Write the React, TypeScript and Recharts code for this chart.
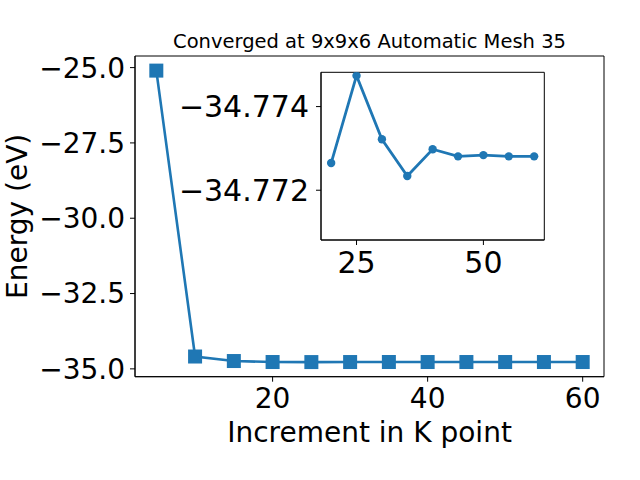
import { LineChart, Line, XAxis, YAxis, CartesianGrid } from 'recharts';

const kPoints = [5, 10, 15, 20, 25, 30, 35, 40, 45, 50, 55, 60];
const energies = [
  -25.1, -34.59, -34.74, -34.77265, -34.77474, -34.77322, -34.77234, -34.77298, -34.77281, -34.77284,
  -34.77281, -34.77281,
];
const mainXTicks = [20, 40, 60];
const mainYTicks = [-35, -32.5, -30, -27.5, -25];
const insetXTicks = [25, 50];
const insetYTicks = [-34.774, -34.772];

const mainData = kPoints.map((k, i) => ({ k, e: energies[i] }));
// inset zooms into k >= 20
const insetData = mainData.filter((d) => d.k >= 20);

const BLUE = '#1f77b4';
const FONT = 'DejaVu Sans, sans-serif';
const minus = (s: string) => s.replace('-', '\u2212');

// box (spines) drawn at the edges of the plot area
const frameH = ({ offset }: any) => [offset.top, offset.top + offset.height];
const frameV = ({ offset }: any) => [offset.left, offset.left + offset.width];

const SquareDot = (props: any) => {
  const { cx, cy, index } = props;
  if (cx == null || cy == null) return null;
  return <rect key={`sq-${index}`} x={cx - 7} y={cy - 7} width={14} height={14} fill={BLUE} />;
};

export default function App() {
  return (
    <div
      style={{
        position: 'absolute',
        left: 0,
        top: 0,
        width: 640,
        height: 480,
        background: '#fff',
        fontFamily: FONT,
      }}
    >
      <LineChart width={640} height={480} data={mainData} margin={{ top: 56, right: 36, bottom: 0, left: 0 }}>
        <CartesianGrid
          stroke="#000"
          strokeWidth={1}
          horizontalCoordinatesGenerator={frameH}
          verticalCoordinatesGenerator={frameV}
        />
        <XAxis
          dataKey="k"
          type="number"
          domain={[2.25, 62.75]}
          ticks={mainXTicks}
          interval={0}
          height={103.3}
          stroke="#000"
          tickSize={5}
          tickMargin={6}
          tick={{ fill: '#000', fontSize: 28, fontFamily: FONT }}
          label={{
            content: ({ viewBox }: any) => (
              <g>
                <text
                  x={viewBox.x + viewBox.width / 2}
                  y={441.7}
                  textAnchor="middle"
                  fontSize={28}
                  fontFamily={FONT}
                  fill="#000"
                >
                  Increment in K point
                </text>
                <text
                  x={viewBox.x + viewBox.width / 2}
                  y={48}
                  textAnchor="middle"
                  fontSize={19.5}
                  fontFamily={FONT}
                  fill="#000"
                >
                  Converged at 9x9x6 Automatic Mesh 35
                </text>
              </g>
            ),
          }}
        />
        <YAxis
          type="number"
          domain={[-35.26, -24.615]}
          ticks={mainYTicks}
          interval={0}
          width={135}
          stroke="#000"
          tickSize={5}
          tickMargin={5}
          tickFormatter={(v: number) => minus(v.toFixed(1))}
          tick={{ fill: '#000', fontSize: 28, fontFamily: FONT }}
          label={{
            content: ({ viewBox }: any) => {
              const cy = viewBox.y + viewBox.height / 2;
              return (
                <text
                  x={27}
                  y={cy}
                  transform={`rotate(-90, 27, ${cy})`}
                  textAnchor="middle"
                  fontSize={28}
                  fontFamily={FONT}
                  fill="#000"
                >
                  Energy (eV)
                </text>
              );
            },
          }}
        />
        <Line
          dataKey="e"
          stroke={BLUE}
          strokeWidth={2.6}
          dot={SquareDot}
          activeDot={false}
          isAnimationActive={false}
        />
      </LineChart>

      <div style={{ position: 'absolute', left: 170, top: 60 }}>
        <LineChart width={380} height={230} data={insetData} margin={{ top: 12.3, right: 5.7, bottom: 0, left: 0 }}>
          <CartesianGrid
            stroke="#000"
            strokeWidth={1}
            fill="#fff"
            horizontalCoordinatesGenerator={frameH}
            verticalCoordinatesGenerator={frameV}
          />
          <XAxis
            dataKey="k"
            type="number"
            domain={[18, 62]}
            ticks={insetXTicks}
            interval={0}
            height={50}
            stroke="#000"
            tickSize={5}
            tickMargin={7}
            tick={{ fill: '#000', fontSize: 30, fontFamily: FONT }}
          />
          <YAxis
            type="number"
            domain={[-34.77482, -34.77081]}
            reversed
            allowDataOverflow
            ticks={insetYTicks}
            interval={0}
            width={151}
            stroke="#000"
            tickSize={5}
            tickMargin={7}
            tickFormatter={(v: number) => minus(v.toFixed(3))}
            tick={{ fill: '#000', fontSize: 30, fontFamily: FONT }}
          />
          <Line
            dataKey="e"
            stroke={BLUE}
            strokeWidth={2.8}
            dot={{ r: 4.2, fill: BLUE, stroke: BLUE, strokeWidth: 0 }}
            activeDot={false}
            isAnimationActive={false}
          />
        </LineChart>
      </div>
    </div>
  );
}
